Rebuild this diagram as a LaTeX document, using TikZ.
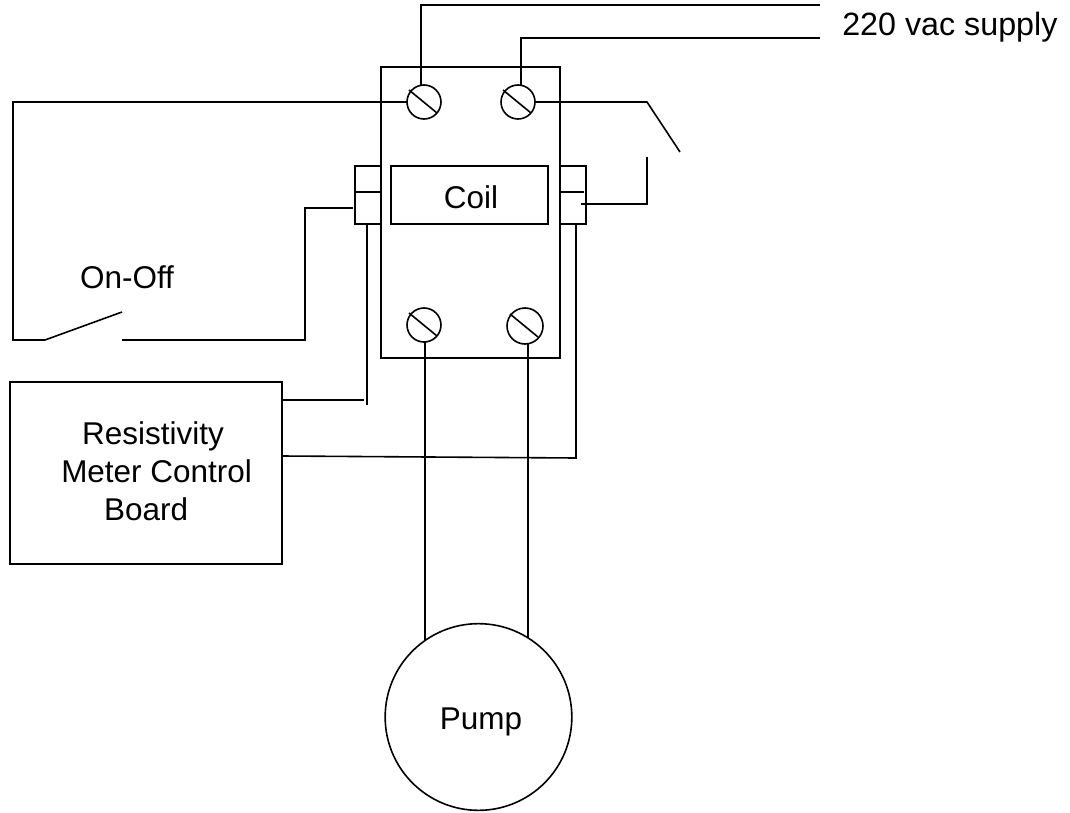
\documentclass[tikz,border=0pt]{standalone}
\usepackage{fontspec}
\setmainfont{Liberation Sans}
\tikzset{
    wire/.style={line width=1.2pt, line cap=butt, line join=miter},
    box/.style={draw, line width=1.2pt, inner sep=0pt, outer sep=0pt},
    terminal/.style={draw, circle, line width=1.2pt, inner sep=0pt, outer sep=0pt},
    caption/.style={inner sep=0pt, font=\fontsize{23.6}{28.5}\selectfont}
}
\begin{document}
\begin{tikzpicture}[x=0.75pt, y=-0.75pt]
    \useasboundingbox (0,0) rectangle (1070,813);

    % Contactor body
    \node[box, minimum width=134.25pt, minimum height=218.25pt] (body) at (470.5,212.5) {};
    \node[box, minimum width=117.8pt, minimum height=43.5pt] (coil) at (469.5,195) {};
    \node[caption] (coiltext) at (471,197) {Coil};

    % Side clips
    \node[box, minimum width=19.5pt, minimum height=43.5pt] (clipL) at (368,195) {};
    \node[box, minimum width=19.5pt, minimum height=43.5pt] (clipR) at (573,195) {};
    \draw[wire] (clipL.west |- 0,192) -- (clipL.east |- 0,192);
    \draw[wire] (clipR.west |- 0,192) -- (584,192);

    % Terminals
    \foreach \tname/\tx/\ty/\tsize in {termA/424/102/25.5pt, termB/518/102/25.5pt, termC/424/325/25.5pt, termD/525/326/27pt}{
        \node[terminal, minimum size=\tsize] (\tname) at (\tx,\ty) {};
        \draw[wire] (\tname.center) ++(-15,-12) -- ++(28,23);
    }

    % Free ends
    \coordinate (supplyA) at (820,5);
    \coordinate (supplyB) at (820,38);
    \coordinate (swL) at (45,340);
    \coordinate (swLtip) at (122,312);
    \coordinate (swR) at (122,340);
    \coordinate (relayA) at (647,102);
    \coordinate (relayAtip) at (680,152);
    \coordinate (relayB) at (647,157);
    \coordinate (clipRin) at (581,204);
    \coordinate (clipLdown) at (367,225);
    \coordinate (clipLend) at (367,405);
    \coordinate (boardA) at (282,400);
    \coordinate (boardAend) at (364,400);
    \coordinate (clipRdown) at (576,224);
    \coordinate (clipRcorner) at (576,458);
    \coordinate (boardB) at (282,456);

    % Supply
    \draw[wire] (421,85) |- (supplyA);
    \draw[wire] (521,85) |- (supplyB);
    \node[caption, anchor=west, font=\fontsize{24.2}{28.5}\selectfont] (supply) at (842,27) {220 vac supply};

    % On-Off loop
    \draw[wire] (termA.west) -- (13,102) |- (swL) -- (swLtip);
    \draw[wire] (swR) -- (305,340) |- (353,208);
    \node[caption] (onoff) at (127,277) {On-Off};

    % Resistivity board
    \node[box, minimum width=204pt, minimum height=136.5pt] (board) at (146,473) {};
    \node[caption, align=left, anchor=west] (boardtext) at (61,471) {\hspace*{15.7pt}Resistivity\\Meter Control\\\hspace*{32.2pt}Board};
    \draw[wire] (clipLdown) -- (clipLend);
    \draw[wire] (boardA) -- (boardAend);
    \draw[wire] (clipRdown) -- (clipRcorner) -- (boardB);

    % Relay contact
    \draw[wire] (termB.east) -- (relayA) -- (relayAtip);
    \draw[wire] (relayB) |- (clipRin);

    % Pump
    \node[terminal, minimum size=140pt] (pump) at (478.5,717) {};
    \node[caption] (pumptext) at (481,722) {Pump};
    \draw[wire] (pump.125) -- (pump.125 |- termC.south);
    \draw[wire] (pump.58) -- (pump.58 |- termD.south);
\end{tikzpicture}
\end{document}
